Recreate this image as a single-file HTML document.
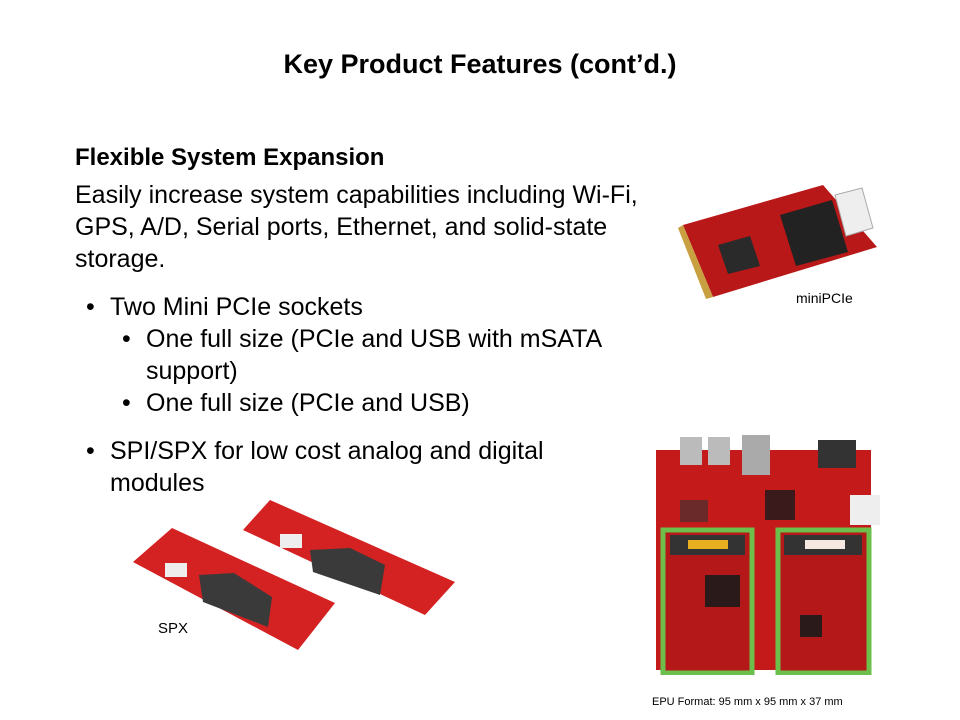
<!DOCTYPE html>
<html><head><meta charset="utf-8"><style>
body{margin:0;width:960px;height:720px;background:#fff;position:relative;overflow:hidden;font-family:"Liberation Sans",sans-serif;color:#000}
.t{position:absolute;white-space:nowrap}
.b{font-size:25px;line-height:32px}
</style></head><body>
<div class="t" style="left:0;width:960px;text-align:center;top:49px;font-size:27px;font-weight:bold">Key Product Features (cont’d.)</div>
<div class="t" style="left:75px;top:144px;font-size:24px;font-weight:bold">Flexible System Expansion</div>
<div class="t b" style="left:75px;top:179px">Easily increase system capabilities including Wi-Fi,<br>GPS, A/D, Serial ports, Ethernet, and solid-state<br>storage.</div>
<div class="t b" style="left:86px;top:291px">•</div><div class="t b" style="left:110px;top:291px">Two Mini PCIe sockets</div>
<div class="t b" style="left:122px;top:323px">•</div><div class="t b" style="left:146px;top:323px">One full size (PCIe and USB with mSATA<br>support)</div>
<div class="t b" style="left:122px;top:387px">•</div><div class="t b" style="left:146px;top:387px">One full size (PCIe and USB)</div>
<div class="t b" style="left:86px;top:435px">•</div><div class="t b" style="left:110px;top:435px">SPI/SPX for low cost analog and digital<br>modules</div>

<svg style="position:absolute;left:0;top:0" width="960" height="720">
<polygon points="683,225 823,185 877,247 713,297" fill="#b81818"/>
<polygon points="683,225 713,297 706,299 678,228" fill="#c9a040"/>
<polygon points="780,215 832,200 848,252 796,266" fill="#222"/>
<polygon points="718,245 750,236 760,266 728,274" fill="#2a2a2a"/>
<polygon points="835,195 862,188 873,228 846,236" fill="#eee" stroke="#aaa"/>
<polygon points="243,530 270,500 455,582 425,615" fill="#d42222"/>
<polygon points="133,562 172,528 335,603 298,650" fill="#d42222"/>
<polygon points="199,575 234,573 272,597 268,627 203,602" fill="#3a3a3a"/>
<polygon points="310,550 350,548 385,565 380,595 313,572" fill="#3a3a3a"/>
<rect x="165" y="563" width="22" height="14" fill="#eee"/>
<rect x="280" y="534" width="22" height="14" fill="#eee"/>
</svg>
<div class="t" style="left:796px;top:290px;font-size:14px">miniPCIe</div>
<div class="t" style="left:158px;top:620px;font-size:15px">SPX</div>

<svg style="position:absolute;left:650px;top:435px" width="230" height="240">
<rect x="6" y="15" width="215" height="220" fill="#c41a1a"/>
<rect x="30" y="2" width="22" height="28" fill="#bbb"/>
<rect x="58" y="2" width="22" height="28" fill="#bbb"/>
<rect x="92" y="0" width="28" height="40" fill="#aaa"/>
<rect x="168" y="5" width="38" height="28" fill="#333"/>
<rect x="200" y="60" width="30" height="30" fill="#eee"/>
<rect x="115" y="55" width="30" height="30" fill="#3a1a1a"/>
<rect x="30" y="65" width="28" height="22" fill="#6a2a2a"/>
<rect x="13" y="95" width="89" height="143" fill="#b41818" stroke="#6cbf4a" stroke-width="5"/>
<rect x="128" y="95" width="91" height="143" fill="#b41818" stroke="#6cbf4a" stroke-width="5"/>
<rect x="20" y="100" width="75" height="20" fill="#333"/>
<rect x="38" y="105" width="40" height="9" fill="#e8b020"/>
<rect x="134" y="100" width="78" height="20" fill="#333"/>
<rect x="155" y="105" width="40" height="9" fill="#f5e8e0"/>
<rect x="55" y="140" width="35" height="32" fill="#2a1a1a"/>
<rect x="150" y="180" width="22" height="22" fill="#2a1a1a"/>
</svg>
<div class="t" style="left:652px;top:696px;font-size:11px">EPU Format: 95 mm x 95 mm x 37 mm</div>
</body></html>
